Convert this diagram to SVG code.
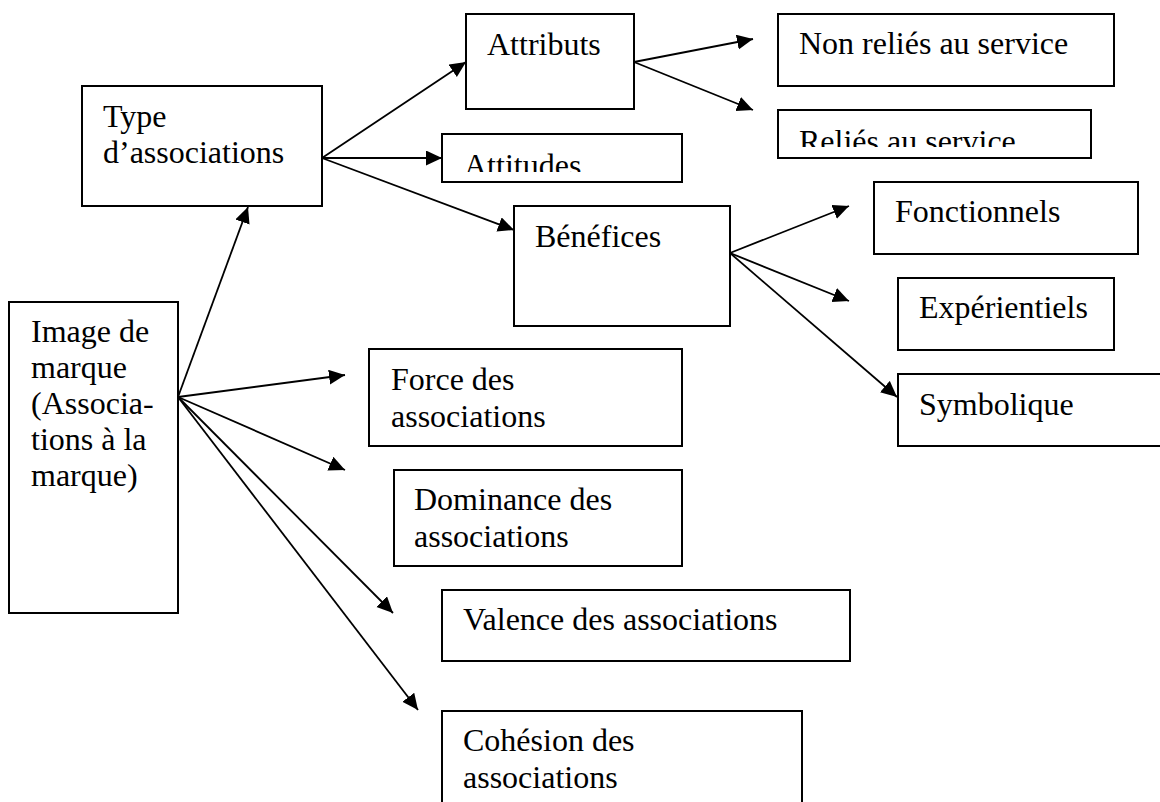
<svg xmlns="http://www.w3.org/2000/svg" width="1160" height="802" viewBox="0 0 1160 802" font-family="Liberation Serif, DejaVu Serif, serif">
  <style>
    .box { fill: #ffffff; stroke: #000000; stroke-width: 2; }
    .lbl { font-family: 'Liberation Serif', 'DejaVu Serif', serif; font-size: 32px; fill: #000000; }
    .link { stroke: #000000; stroke-width: 1.8; fill: none; marker-end: url(#arrow); }
  </style>
  <defs>
    <marker id="arrow" markerUnits="userSpaceOnUse" markerWidth="18" markerHeight="16" refX="16" refY="7.5" orient="auto">
      <path d="M0,0 L16,7.5 L0,15 z" fill="#000000"/>
    </marker>
    <clipPath id="clipAttitudes"><rect x="442" y="134" width="240" height="38"/></clipPath>
    <clipPath id="clipRelies"><rect x="778" y="110" width="313" height="37"/></clipPath>
  </defs>
  <rect width="1160" height="802" fill="#ffffff"/>

  <g id="connectors">
    <line class="link" x1="322" y1="158" x2="466" y2="62"/>
    <line class="link" x1="322" y1="158" x2="442" y2="158"/>
    <line class="link" x1="322" y1="158" x2="514" y2="230"/>
    <line class="link" x1="634" y1="62" x2="753" y2="39"/>
    <line class="link" x1="634" y1="62" x2="753" y2="110"/>
    <line class="link" x1="730" y1="253" x2="849" y2="206"/>
    <line class="link" x1="730" y1="253" x2="849" y2="301"/>
    <line class="link" x1="730" y1="253" x2="897" y2="397"/>
    <line class="link" x1="178" y1="397" x2="248" y2="207"/>
    <line class="link" x1="178" y1="397" x2="345" y2="375"/>
    <line class="link" x1="178" y1="397" x2="345" y2="470"/>
    <line class="link" x1="178" y1="397" x2="393" y2="613"/>
    <line class="link" x1="178" y1="397" x2="418" y2="710"/>
  </g>

  <g id="node-type">
    <rect class="box" x="82" y="86" width="240" height="120"/>
    <text class="lbl" x="103" y="127">Type</text>
    <text class="lbl" x="103" y="163">d’associations</text>
  </g>

  <g id="node-attributs">
    <rect class="box" x="466" y="14" width="168" height="95"/>
    <text class="lbl" x="487" y="55">Attributs</text>
  </g>

  <g id="node-attitudes">
    <rect class="box" x="442" y="134" width="240" height="48"/>
    <text class="lbl" x="464" y="176" clip-path="url(#clipAttitudes)">Attitudes</text>
  </g>

  <g id="node-benefices">
    <rect class="box" x="514" y="206" width="216" height="120"/>
    <text class="lbl" x="535" y="247">Bénéfices</text>
  </g>

  <g id="node-non-relies">
    <rect class="box" x="778" y="14" width="336" height="72"/>
    <text class="lbl" x="799" y="54">Non reliés au service</text>
  </g>

  <g id="node-relies">
    <rect class="box" x="778" y="110" width="313" height="48"/>
    <text class="lbl" x="799" y="152" clip-path="url(#clipRelies)">Reliés au service</text>
  </g>

  <g id="node-fonctionnels">
    <rect class="box" x="874" y="182" width="264" height="72"/>
    <text class="lbl" x="895" y="222">Fonctionnels</text>
  </g>

  <g id="node-experientiels">
    <rect class="box" x="898" y="278" width="216" height="72"/>
    <text class="lbl" x="919" y="318">Expérientiels</text>
  </g>

  <g id="node-symbolique">
    <rect class="box" x="898" y="374" width="270" height="72"/>
    <text class="lbl" x="919" y="415">Symbolique</text>
  </g>

  <g id="node-image">
    <rect class="box" x="9" y="302" width="169" height="311"/>
    <text class="lbl" x="31" y="342">Image de</text>
    <text class="lbl" x="31" y="378">marque</text>
    <text class="lbl" x="31" y="414">(Associa-</text>
    <text class="lbl" x="31" y="450">tions à la</text>
    <text class="lbl" x="31" y="486">marque)</text>
  </g>

  <g id="node-force">
    <rect class="box" x="369" y="349" width="313" height="97"/>
    <text class="lbl" x="391" y="390">Force des</text>
    <text class="lbl" x="391" y="427">associations</text>
  </g>

  <g id="node-dominance">
    <rect class="box" x="394" y="470" width="288" height="96"/>
    <text class="lbl" x="414" y="510">Dominance des</text>
    <text class="lbl" x="414" y="547">associations</text>
  </g>

  <g id="node-valence">
    <rect class="box" x="442" y="590" width="408" height="71"/>
    <text class="lbl" x="463" y="630">Valence des associations</text>
  </g>

  <g id="node-cohesion">
    <rect class="box" x="442" y="711" width="360" height="100"/>
    <text class="lbl" x="463" y="751">Cohésion des</text>
    <text class="lbl" x="463" y="788">associations</text>
  </g>
</svg>
